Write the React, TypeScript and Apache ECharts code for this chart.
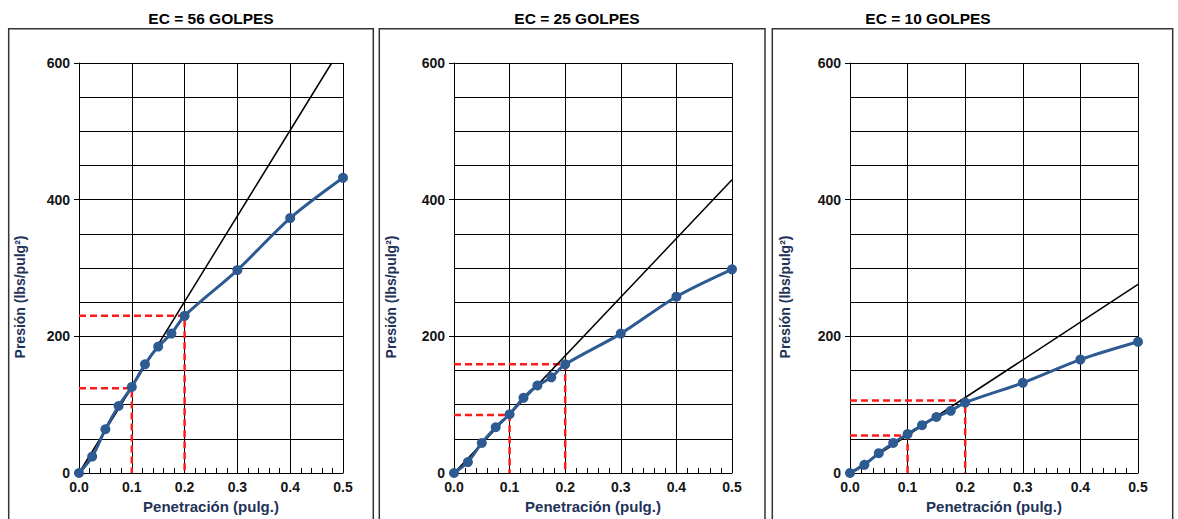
import React, { useEffect, useRef } from "react";
import * as echarts from "echarts";

const penetracion = [0, 0.025, 0.05, 0.075, 0.1, 0.125, 0.15, 0.175, 0.2, 0.3, 0.4, 0.5];
const presion56 = [0, 24, 64, 98, 126, 159, 185, 204, 230, 297, 373, 432];
const presion25 = [0, 16, 44, 67, 86, 110, 128, 140, 159, 204, 258, 298];
const presion10 = [0, 12, 29, 44, 57, 70, 82, 91, 103, 132, 166, 192];

const correccion56 = [[0, 0], [0.4785, 600]];
const correccion25 = [[0, 0], [0.5, 429]];
const correccion10 = [[0, 0], [0.5, 276]];

const lectura56 = [124, 230];
const lectura25 = [85, 159];
const lectura10 = [55, 106];

const titulos = ["EC = 56 GOLPES", "EC = 25 GOLPES", "EC = 10 GOLPES"];
const xTicks = [0, 0.1, 0.2, 0.3, 0.4, 0.5];
const yTicks = [0, 200, 400, 600];

const FONT = "Liberation Sans";
const BLUE = "#2E5A92";
const NAME_COLOR = "#1F3358";
const TICK_COLOR = "#151515";

const panels = [
  { left: 79, width: 264, title: titulos[0], titleX: 211, yNameX: 20, border: [8.7, 373.3], data: presion56, corr: correccion56, lect: lectura56 },
  { left: 454, width: 278, title: titulos[1], titleX: 577, yNameX: 391, border: [379.3, 765], data: presion25, corr: correccion25, lect: lectura25 },
  { left: 850, width: 288, title: titulos[2], titleX: 928, yNameX: 785, border: [772.3, 1172.7], data: presion10, corr: correccion10, lect: lectura10 },
];

export default function App() {
  const ref = useRef<HTMLDivElement>(null);
  useEffect(() => {
    if (!ref.current) return;
    const chart = echarts.init(ref.current, undefined, { renderer: "svg" });
    const grid: any[] = [];
    const xAxis: any[] = [];
    const yAxis: any[] = [];
    const series: any[] = [];
    const graphic: any[] = [];
    panels.forEach((p, i) => {
      grid.push({ left: p.left, width: p.width, top: 63, height: 410 });
      xAxis.push({
        type: "value",
        gridIndex: i,
        min: xTicks[0],
        max: xTicks[xTicks.length - 1],
        interval: 0.1,
        name: "Penetración (pulg.)",
        nameLocation: "middle",
        nameGap: 25,
        nameTextStyle: { fontFamily: FONT, fontWeight: "bold", fontSize: 15, color: NAME_COLOR },
        axisLine: { show: true, lineStyle: { color: "#000", width: 1 } },
        axisTick: { show: false },
        minorTick: { show: true, splitNumber: 5, length: -5, lineStyle: { color: "#000", width: 1 } },
        splitLine: { show: true, lineStyle: { color: "#000", width: 1 } },
        axisLabel: {
          margin: 7,
          fontFamily: FONT,
          fontWeight: "bold",
          fontSize: 14,
          color: TICK_COLOR,
          formatter: (v: number) => v.toFixed(1),
        },
      });
      yAxis.push({
        type: "value",
        gridIndex: i,
        min: 0,
        max: 600,
        interval: 50,
        axisLine: { show: true, lineStyle: { color: "#000", width: 1 } },
        axisTick: { show: false },
        axisLabel: { show: false },
        splitLine: { show: true, lineStyle: { color: "#000", width: 1 } },
      });
      yAxis.push({
        type: "value",
        gridIndex: i,
        position: "left",
        min: yTicks[0],
        max: yTicks[yTicks.length - 1],
        interval: 200,
        axisLine: { show: false },
        axisTick: { show: true, length: 5, lineStyle: { color: "#000", width: 1 } },
        splitLine: { show: false },
        axisLabel: {
          margin: 9,
          fontFamily: FONT,
          fontWeight: "bold",
          fontSize: 14,
          color: TICK_COLOR,
        },
      });
      const lx = [0.1, 0.2];
      p.lect.forEach((v, k) => {
        series.push({
          type: "line",
          xAxisIndex: i,
          yAxisIndex: i * 2,
          data: [[0, v], [lx[k], v], [lx[k], 0]],
          symbol: "none",
          lineStyle: { color: "#FF1A1A", width: 2.5, type: [7, 4] },
          z: 3,
        });
      });
      series.push({
        type: "line",
        xAxisIndex: i,
        yAxisIndex: i * 2,
        data: p.corr,
        symbol: "none",
        lineStyle: { color: "#000", width: 1.5 },
        z: 4,
      });
      series.push({
        type: "line",
        xAxisIndex: i,
        yAxisIndex: i * 2,
        data: penetracion.map((x, k) => [x, p.data[k]]),
        smooth: 0.3,
        symbol: "circle",
        symbolSize: 10,
        itemStyle: { color: BLUE },
        lineStyle: { color: BLUE, width: 3 },
        z: 5,
      });
      graphic.push({
        type: "rect",
        shape: { x: p.border[0], y: 28.7, width: p.border[1] - p.border[0], height: 520 },
        style: { fill: "none", stroke: "#333", lineWidth: 1.5 },
        silent: true,
      });
      graphic.push({
        type: "text",
        x: p.titleX,
        y: 18,
        style: {
          text: p.title,
          fontFamily: FONT,
          fontWeight: "bold",
          fontSize: 15.5,
          fill: "#000",
          align: "center",
          verticalAlign: "middle",
        },
      });
      graphic.push({
        type: "text",
        x: p.yNameX,
        y: 297,
        rotation: Math.PI / 2,
        style: {
          text: "Presión (lbs/pulg²)",
          fontFamily: FONT,
          fontWeight: "bold",
          fontSize: 14,
          fill: NAME_COLOR,
          align: "center",
          verticalAlign: "middle",
        },
      });
    });
    chart.setOption({
      animation: false,
      backgroundColor: "#fff",
      grid,
      xAxis,
      yAxis,
      series,
      graphic,
    });
    return () => chart.dispose();
  }, []);
  return (
    <div
      ref={ref}
      style={{ position: "fixed", left: 0, top: 0, width: 1178, height: 519 }}
    />
  );
}
